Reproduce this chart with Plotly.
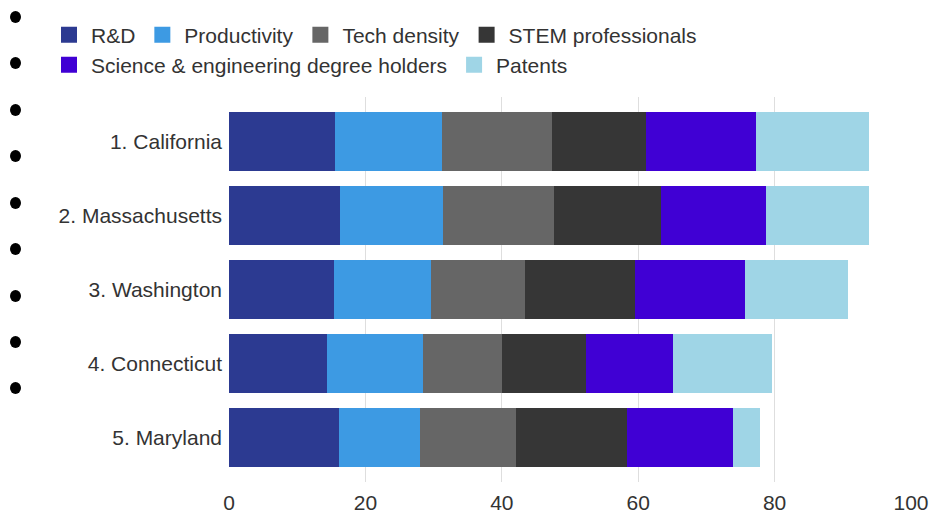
import plotly.graph_objects as go

states = ["1. California", "2. Massachusetts", "3. Washington", "4. Connecticut", "5. Maryland"]
series_names = ["R&D", "Productivity", "Tech density", "STEM professionals",
                "Science & engineering degree holders", "Patents"]
rnd = [15.6, 16.3, 15.4, 14.3, 16.1]
productivity = [15.6, 15.1, 14.2, 14.1, 11.9]
tech_density = [16.2, 16.3, 13.8, 11.6, 14.1]
stem = [13.8, 15.6, 16.1, 12.3, 16.2]
se_degrees = [16.1, 15.5, 16.2, 12.8, 15.6]
patents = [16.5, 15.0, 15.1, 14.5, 3.9]
x_ticks = [0, 20, 40, 60, 80, 100]

values = [rnd, productivity, tech_density, stem, se_degrees, patents]
colors = ["#2c3a91", "#3d9ae3", "#666666", "#363636", "#4000d4", "#9fd5e6"]

W, H = 931, 517
L, R, T, B = 229, 20, 97, 35
FONT = "Liberation Sans, Arial, sans-serif"
TXT = "#333333"

fig = go.Figure()
for name, vals, col in zip(series_names, values, colors):
    fig.add_trace(go.Bar(y=states, x=vals, name=name, orientation="h",
                         marker=dict(color=col, line=dict(width=0)),
                         showlegend=False))
# legend entries (square swatches)
for i, (name, col) in enumerate(zip(series_names, colors)):
    fig.add_trace(go.Scatter(x=[None], y=[None], mode="markers", name=name,
                             marker=dict(symbol="square", size=20, color=col),
                             legend="legend" if i < 4 else "legend2"))

# decorative bullet dots on the left edge (pixel positions -> paper coords)
pw, ph = W - L - R, H - T - B
def px2paper(px, py):
    return (px - L) / pw, (H - B - py) / ph
for cy in [17, 63, 110, 156, 203, 249, 296, 342, 388]:
    x0, y0 = px2paper(10, cy + 6)
    x1, y1 = px2paper(21, cy - 6)
    fig.add_shape(type="circle", xref="paper", yref="paper",
                  x0=x0, x1=x1, y0=y0, y1=y1,
                  fillcolor="black", line=dict(width=0), layer="above")

legend_common = dict(orientation="h", xref="container", yref="container",
                     xanchor="left", yanchor="middle", traceorder="normal",
                     itemwidth=34,
                     font=dict(size=21, color=TXT), bgcolor="rgba(0,0,0,0)",
                     itemclick=False, itemdoubleclick=False)

fig.update_layout(
    width=W, height=H,
    margin=dict(l=L, r=R, t=T, b=B, pad=0, autoexpand=False),
    barmode="stack", bargap=0.2,
    plot_bgcolor="white", paper_bgcolor="white",
    font=dict(family=FONT, size=21, color=TXT),
    legend=dict(x=47 / W, y=1 - 35 / H, **legend_common),
    legend2=dict(x=47 / W, y=1 - 65 / H, **legend_common),
    xaxis=dict(range=[0, 100], tickvals=x_ticks, showgrid=True,
               gridcolor="#dedede", gridwidth=1, zeroline=False,
               showline=False, ticks="", ticklabelstandoff=6,
               automargin=False, tickfont=dict(size=21, color=TXT)),
    yaxis=dict(type="category", categoryorder="array", categoryarray=states,
               range=[4.6, -0.6], showgrid=False, zeroline=False,
               showline=False, ticks="", ticklabelstandoff=6,
               automargin=False, tickfont=dict(size=21, color=TXT)),
)

fig.write_html("out.html")
